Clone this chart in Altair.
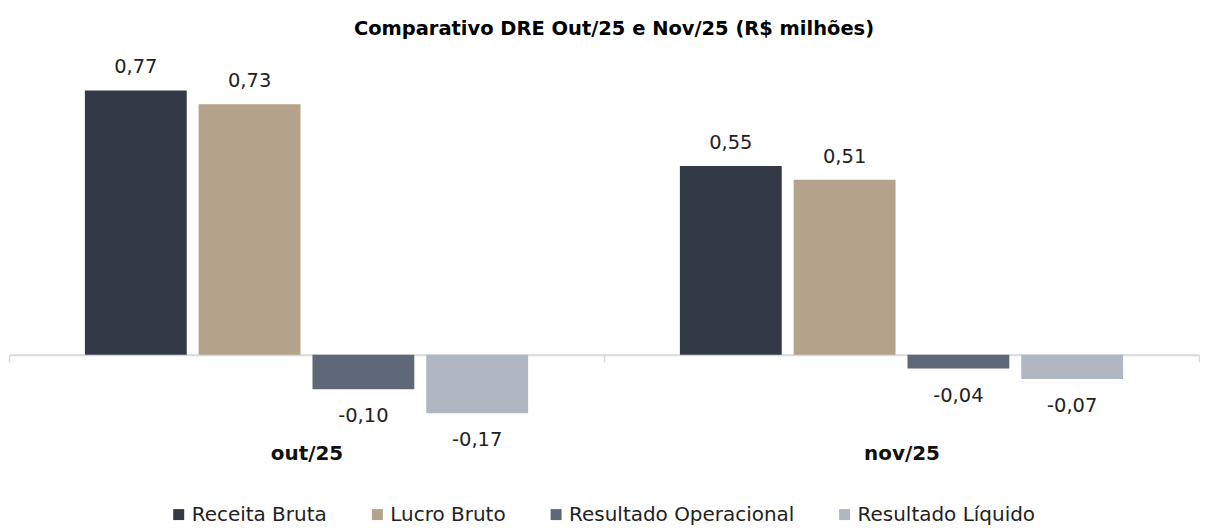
import altair as alt
import pandas as pd

periods = ["out/25", "nov/25"]
series = ["Receita Bruta", "Lucro Bruto", "Resultado Operacional", "Resultado Líquido"]
out_values = [0.77, 0.73, -0.10, -0.17]
nov_values = [0.55, 0.51, -0.04, -0.07]
colors = ["#343a45", "#b4a28b", "#5e6879", "#b0b6c2"]

rows = []
for p, vals in zip(periods, [out_values, nov_values]):
    for s, v in zip(series, vals):
        rows.append({"periodo": p, "serie": s, "valor": v})
df = pd.DataFrame(rows)

FONT = "DejaVu Sans"

x = alt.X(
    "periodo:N", sort=periods,
    scale=alt.Scale(paddingInner=0, paddingOuter=0),
    axis=alt.Axis(
        title=None, labelAngle=0, orient="bottom", offset=-65,
        domainColor="#d9d9d9", domainWidth=2,
        tickColor="#d9d9d9", tickWidth=1.5, tickSize=7, tickBand="extent",
        labelPadding=82, labelFontWeight="bold", labelFontSize=20,
        labelColor="#111111", labelFont=FONT, labelBaseline="top",
    ),
)
xo = alt.XOffset("serie:N", sort=series,
                 scale=alt.Scale(paddingInner=0.105, paddingOuter=0.667))
y = alt.Y("valor:Q", scale=alt.Scale(domain=[-0.189, 0.8866], nice=False), axis=None)

base = alt.Chart(df).transform_calculate(
    label="replace(replace(format(datum.valor, '.2f'), '.', ','), '\u2212', '-')"
)

bars = base.mark_bar().encode(
    x=x, xOffset=xo, y=y, y2=alt.datum(0),
    color=alt.Color(
        "serie:N", sort=series,
        scale=alt.Scale(domain=series, range=colors),
        legend=alt.Legend(
            title=None, orient="none", direction="horizontal",
            legendX=160, legendY=455,
            symbolType="square", symbolSize=121, symbolStrokeWidth=0,
            labelFont=FONT, labelFontSize=20, labelColor="#222222",
            labelOffset=3, columnPadding=40, labelLimit=0,
        ),
    ),
)

pos = base.transform_filter("datum.valor >= 0").mark_text(
    baseline="middle", dy=-23, fontSize=19.5, font=FONT, color="#222222"
).encode(x=x, xOffset=xo, y=y, text="label:N")

neg = base.transform_filter("datum.valor < 0").mark_text(
    baseline="middle", dy=27, fontSize=19.5, font=FONT, color="#222222"
).encode(x=x, xOffset=xo, y=y, text="label:N")

chart = alt.layer(bars, pos, neg).properties(
    width=1192, height=370,
    padding={"left": 0, "right": 0, "top": 10, "bottom": 0},
    title=alt.TitleParams(
        "Comparativo DRE Out/25 e Nov/25 (R$ milhões)",
        fontSize=19.5, fontWeight="bold", font=FONT, anchor="middle",
        color="#000000", offset=11, dx=10,
    ),
).configure_view(stroke=None)

chart.save("out.html", embed_options={"renderer": "svg", "actions": False})
